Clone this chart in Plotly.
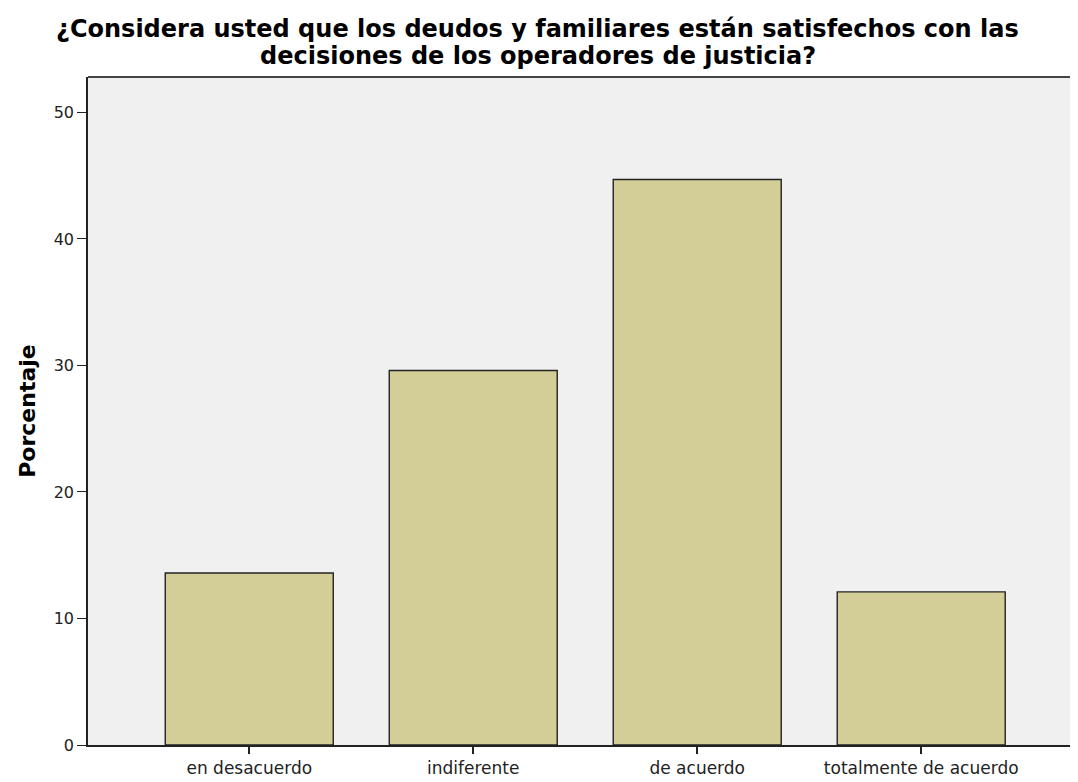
import plotly.graph_objects as go

categories = ["en desacuerdo", "indiferente", "de acuerdo", "totalmente de acuerdo"]
percentages = [13.6, 29.6, 44.7, 12.1]
y_ticks = [0, 10, 20, 30, 40, 50]

title_lines = [
    "¿Considera usted que los deudos y familiares están satisfechos con las",
    "decisiones de los operadores de justicia?",
]

# page body has an 8px margin; compensate so the figure lands like the reference
W, H = 1070, 774
ML, MT, MB, MR = 80, 69, 37, 0

fig = go.Figure()
fig.add_trace(go.Bar(
    x=list(range(len(categories))),
    y=percentages,
    width=0.75,
    marker=dict(color="#D3CE97", line=dict(color="#222222", width=1.4)),
))

fig.update_layout(
    width=W, height=H,
    margin=dict(l=ML, r=MR, t=MT, b=MB),
    paper_bgcolor="white",
    plot_bgcolor="#F0F0F0",
    showlegend=False,
    font=dict(family="DejaVu Sans", size=17, color="#222"),
)

for line, shift in zip(title_lines, [48, 21]):
    fig.add_annotation(
        text=line, showarrow=False,
        xref="paper", yref="paper", x=0.4545, y=1,
        xanchor="center", yanchor="middle", yshift=shift,
        font=dict(family="DejaVu Sans", size=24, color="black", weight="bold"),
    )

fig.update_xaxes(
    range=[-0.72, 3.70],
    tickmode="array",
    tickvals=list(range(len(categories))),
    ticktext=categories,
    ticks="outside", ticklen=7, tickwidth=1.5, tickcolor="#222",
    showline=True, linecolor="#222", linewidth=1.5,
    showgrid=False, zeroline=False,
    tickfont=dict(family="DejaVu Sans", size=17, color="#222"),
)
fig.update_yaxes(
    range=[0, 52.8],
    tickmode="array",
    tickvals=y_ticks,
    ticks="outside", ticklen=9, tickwidth=1.2, tickcolor="#222",
    showline=True, linecolor="#222", linewidth=1.5,
    showgrid=False, zeroline=False,
    tickfont=dict(family="DejaVu Sans", size=16, color="#222"),
    title=dict(text="<b>Porcentaje</b>",
               font=dict(family="DejaVu Sans", size=22, color="black"), standoff=12),
)

# top frame line of the plot area
fig.add_shape(type="line", xref="paper", yref="paper", x0=0, x1=1, y0=1, y1=1,
              line=dict(color="#444", width=2))

fig.write_html("out.html")
